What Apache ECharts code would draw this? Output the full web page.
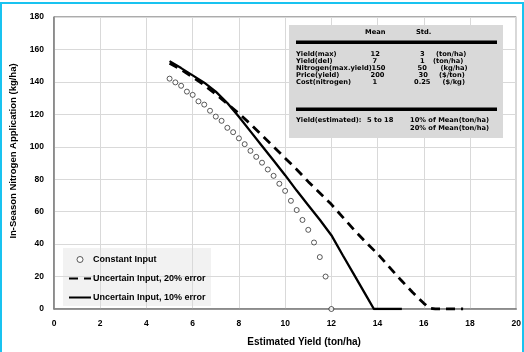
<!DOCTYPE html>
<html>
<head>
<meta charset="utf-8">
<script src="https://cdn.jsdelivr.net/npm/echarts@6/dist/echarts.min.js"></script>
<style>
html,body{margin:0;padding:0;background:#fff;}
#chart{position:absolute;left:0;top:0;width:524px;height:352px;}
#frame{position:absolute;left:0;top:2px;width:520px;height:350px;border-left:2px solid #19c3f0;border-top:2px solid #19c3f0;border-right:2px solid #19c3f0;pointer-events:none;}
</style>
</head>
<body>
<div id="chart"></div>
<div id="frame"></div>
<script>
// Constant Input (x = estimated yield, y = N application)
const constX = [5,5.25,5.5,5.75,6,6.25,6.5,6.75,7,7.25,7.5,7.75,8,8.25,8.5,8.75,9,9.25,9.5,9.75,10,10.25,10.5,10.75,11,11.25,11.5,11.75,12];
const constY = [142,139.7,137.6,134,132,128,126,122.2,118.6,116,111.7,109,105.2,101.6,97.5,93.8,90.2,86,82.1,77.2,72.8,66.7,61,54.9,48.8,41,32,20,0];
// Uncertain Input, 20% error
const err20X = [5,5.5,6,6.5,7,7.5,8,8.5,9,9.5,10,10.5,11,11.5,12,12.5,13,13.5,14,14.5,15,15.5,16,16.25,16.5,17,17.5,17.7];
const err20Y = [151.5,147.5,143,138,132.5,126.5,120.5,114,107,100,93,86,78.5,71.5,64.5,56.5,48.5,41,34,26,18,10.5,3.5,0.5,0,0,0,0];
// Uncertain Input, 10% error
const err10X = [5,5.5,6,6.5,7,7.5,8,8.5,9,9.5,10,10.5,11,11.5,12,12.5,13,13.5,13.84,14,14.5,15.05];
const err10Y = [152.8,148.5,144,139.5,134,127,118.5,109.5,100.5,91.5,82.5,73,64,55,45.5,33,20.7,8.4,0,0,0,0];

const xTicks = {min:0, max:20, interval:2};
const yTicks = {min:0, max:180, interval:20};

const tableHeader = ['Mean','Std.'];
const tableRows = [
  ['Yield(max)','12','3','(ton/ha)'],
  ['Yield(del)','7','1','(ton/ha)'],
  ['Nitrogen(max.yield)','150','50','(kg/ha)'],
  ['Price(yield)','200','30','($/ton)'],
  ['Cost(nitrogen)','1','0.25','($/kg)']
];
const tableFoot = ['Yield(estimated):','5 to 18','10% of Mean(ton/ha)','20% of Mean(ton/ha)'];

const zip = (xs, ys) => xs.map((x,i)=>[x, ys[i]]);
const FONT = '"Liberation Sans", Arial, sans-serif';
const TFONT = '"DejaVu Sans", "Liberation Sans", sans-serif';

const chart = echarts.init(document.getElementById('chart'));

const tf = {fontFamily: TFONT, fontWeight:'bold', fontSize:6.7, fill:'#000'};
const T = (x, y, text) => ({type:'text', x:x, y:y, z:11, style:Object.assign({text:text, textVerticalAlign:'middle'}, tf)});
const graphics = [
  {type:'rect', shape:{x:289,y:25,width:214,height:113}, style:{fill:'#d9d9d9'}, z:10},
  T(365, 32, tableHeader[0]),
  T(416, 32, tableHeader[1]),
  {type:'rect', shape:{x:296,y:40.5,width:201,height:3.5}, style:{fill:'#000'}, z:11},
  {type:'rect', shape:{x:296,y:107.5,width:201,height:3.5}, style:{fill:'#000'}, z:11},
];
const rowY = [54.5, 61.5, 68.5, 75.2, 82];
const meanX = [370.5, 372.5, 371.5, 370.5, 372.5];
const stdX = [420, 420, 417.5, 418.5, 414];
const unitX = [436, 433, 440.5, 439, 442.5];
tableRows.forEach((r,i)=>{
  graphics.push(T(296, rowY[i], r[0]));
  graphics.push(T(meanX[i], rowY[i], r[1]));
  graphics.push(T(stdX[i], rowY[i], r[2]));
  graphics.push(T(unitX[i], rowY[i], r[3]));
});
graphics.push(T(296, 120, tableFoot[0]));
graphics.push(T(367, 120, tableFoot[1]));
graphics.push(T(410, 120, tableFoot[2]));
graphics.push(T(410, 128.5, tableFoot[3]));
graphics.push({type:'rect', shape:{x:63,y:248,width:148,height:58}, style:{fill:'#f2f2f2'}, z:0});

chart.setOption({
  animation:false,
  backgroundColor:'#fff',
  grid:{left:54, right:5, top:17, bottom:39, show:true, borderColor:'#595959', borderWidth:1, backgroundColor:'transparent'},
  xAxis:{
    type:'value', min:xTicks.min, max:xTicks.max, interval:xTicks.interval,
    name:'Estimated Yield (ton/ha)', nameLocation:'middle', nameGap:28,
    nameTextStyle:{fontFamily:FONT, fontWeight:'bold', fontSize:10, color:'#000', padding:[0,0,0,38]},
    axisLine:{lineStyle:{color:'#808080', width:1.5}},
    axisTick:{show:false},
    axisLabel:{fontFamily:FONT, fontWeight:'bold', fontSize:8.5, color:'#000', margin:10},
    splitLine:{lineStyle:{color:'#d9d9d9', width:1}}
  },
  yAxis:{
    type:'value', min:yTicks.min, max:yTicks.max, interval:yTicks.interval,
    name:'In-Season Nitrogen Application (kg/ha)', nameLocation:'middle', nameGap:36,
    nameTextStyle:{fontFamily:FONT, fontWeight:'bold', fontSize:9.5, color:'#000', padding:[0,0,0,24]},
    axisLine:{show:true, lineStyle:{color:'#808080', width:1.5}},
    axisTick:{show:false},
    axisLabel:{fontFamily:FONT, fontWeight:'bold', fontSize:8.5, color:'#000', margin:10},
    splitLine:{lineStyle:{color:'#d9d9d9', width:1}}
  },
  legend:{
    orient:'vertical', left:63, top:250, itemWidth:22, itemHeight:6, itemGap:10,
    textStyle:{fontFamily:FONT, fontWeight:'bold', fontSize:9, color:'#000', padding:[0,0,0,-3]},
    data:[
      {name:'Constant Input', icon:'circle', itemStyle:{color:'#fff', borderColor:'#000', borderWidth:0.8}},
      {name:'Uncertain Input, 20% error', itemStyle:{opacity:0}},
      {name:'Uncertain Input, 10% error', itemStyle:{opacity:0}}
    ]
  },
  graphic:graphics,
  series:[
    {name:'Constant Input', type:'scatter', symbol:'circle', symbolSize:5,
     itemStyle:{color:'#fff', borderColor:'#000', borderWidth:0.8},
     data:zip(constX, constY), z:5},
    {name:'Uncertain Input, 20% error', type:'line', symbol:'none', showSymbol:false, smooth:false,
     lineStyle:{color:'#000', width:2.8, type:[9,6]}, itemStyle:{color:'#000'},
     data:zip(err20X, err20Y), z:4},
    {name:'Uncertain Input, 10% error', type:'line', symbol:'none', showSymbol:false, smooth:false,
     lineStyle:{color:'#000', width:2.3}, itemStyle:{color:'#000'},
     data:zip(err10X, err10Y), z:4}
  ]
});
</script>
</body>
</html>
